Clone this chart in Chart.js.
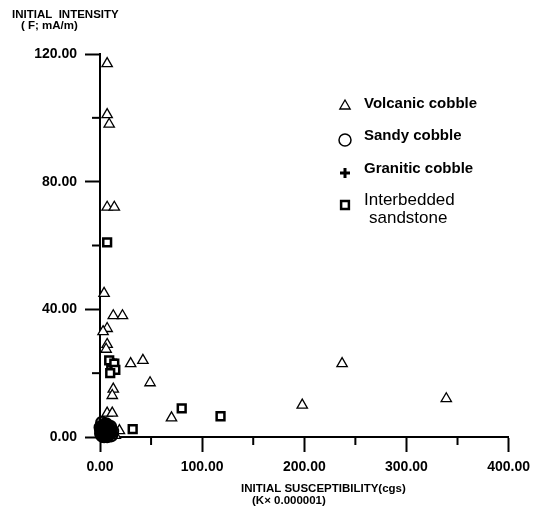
<!DOCTYPE html>
<html>
<head>
<meta charset="utf-8">
<script src="https://cdn.jsdelivr.net/npm/chart.js@4/dist/chart.umd.min.js"></script>
<style>
  body { margin: 0; background: #fff; }
  canvas { display: block; }
</style>
</head>
<body>
<canvas id="chart" width="537" height="509"></canvas>
<script>
// Values
const volcanicX = [7, 7, 9, 7, 14, 4, 13, 22, 7, 3, 7, 6, 13, 30, 42, 49, 13, 12, 7, 12, 70, 198, 237, 339, 19, 3, 6, 10, 15];
const volcanicY = [117, 101, 98, 72, 72, 45, 38, 38, 34, 33, 29, 27.5, 23, 23, 24, 17, 15, 13, 7.5, 7.5, 6, 10, 23, 12, 2, 4, 2, 1, 0.5];

const sandyX = [1, 2, 3, 4, 5, 6, 2, 8, 3, 7, 10, 1, 4, 5, 9, 11, 6, 2, 8, 12, 3, 0.5, 7, 10];
const sandyY = [1, 0.5, 2, 1.5, 0.8, 2.5, 3, 1, 0.3, 3.5, 1.2, 2, 0.2, 3, 2.5, 0.5, 4, 4.5, 3, 1.8, 1.2, 3, 0.2, 3.2];

const graniticX = [1, 2, 4, 5, 6, 3, 8, 1, 9, 4, 7, 11, 2, 6];
const graniticY = [0.5, 1.5, 0.2, 2, 1, 3, 0.5, 2.5, 1.5, 4, 2.2, 1, 3.8, 3.5];

const sandstoneX = [7, 12, 11, 9, 14, 15, 10, 32, 80, 118, 2, 5, 9];
const sandstoneY = [61, 23, 21, 24, 23, 21, 20, 2.5, 9, 6.5, 2, 0.5, 2];

const xTicks = [0, 100, 200, 300, 400];
const yTicks = [0, 40, 80, 120];
const xMinor = [50, 150, 250, 350];
const yMinor = [20, 60, 100];

const FONT = "'Liberation Sans', Arial, sans-serif";

function pts(xs, ys) {
    return xs.map((x, i) => ({ x: x, y: ys[i] }));
}

// minor ticks, axis titles and the in-plot legend
const extras = {
    id: "extras",
    afterDraw(chart) {
        const ctx = chart.ctx;
        const xs = chart.scales.x, ys = chart.scales.y;
        const area = chart.chartArea;
        ctx.save();
        ctx.strokeStyle = "#000";
        ctx.lineWidth = 2;
        xMinor.forEach(v => {
            const px = xs.getPixelForValue(v);
            ctx.beginPath();
            ctx.moveTo(px, area.bottom);
            ctx.lineTo(px, area.bottom + 8);
            ctx.stroke();
        });
        yMinor.forEach(v => {
            const py = ys.getPixelForValue(v);
            ctx.beginPath();
            ctx.moveTo(area.left - 8, py);
            ctx.lineTo(area.left, py);
            ctx.stroke();
        });

        ctx.fillStyle = "#000";
        ctx.textBaseline = "middle";
        ctx.textAlign = "left";
        ctx.font = "bold 11.5px " + FONT;
        ctx.fillText("INITIAL  INTENSITY", 12, 15);
        ctx.fillText("( F; mA/m)", 21, 26);
        ctx.fillText("INITIAL SUSCEPTIBILITY(cgs)", 241, 489);
        ctx.fillText("(K\u00d7 0.000001)", 252, 501);

        // legend
        const helpers = Chart.helpers;
        const items = [
            { style: "triangle", r: 6, w: 1.3, my: 106, y: 104, text: ["Volcanic cobble"], bold: true },
            { style: "circle", r: 6, w: 1.5, my: 140, y: 136, text: ["Sandy cobble"], bold: true },
            { style: "cross", r: 5, w: 3, my: 173, y: 169, text: ["Granitic cobble"], bold: true },
            { style: "rect", r: 5.5, w: 2.5, my: 205, y: 200, text: ["Interbedded", "sandstone"], bold: false }
        ];
        items.forEach(it => {
            ctx.strokeStyle = "#000";
            ctx.fillStyle = "#fff";
            ctx.lineWidth = it.w;
            helpers.drawPoint(ctx, { pointStyle: it.style, radius: it.r, borderWidth: it.w, rotation: 0 }, 345, it.my);
            ctx.fillStyle = "#000";
            if (it.bold) {
                ctx.font = "bold 15px " + FONT;
                ctx.fillText(it.text[0], 364, it.y);
            } else {
                ctx.font = "17px " + FONT;
                ctx.fillText(it.text[0], 364, it.y);
                ctx.fillText(it.text[1], 369, it.y + 18);
            }
        });
        ctx.restore();
    }
};

new Chart(document.getElementById("chart"), {
    type: "scatter",
    data: {
        datasets: [
            {
                label: "Sandy cobble",
                data: pts(sandyX, sandyY),
                pointStyle: "circle",
                pointRadius: 6,
                borderWidth: 2,
                borderColor: "#000",
                backgroundColor: "rgba(0,0,0,0.6)",
                clip: false
            },
            {
                label: "Granitic cobble",
                data: pts(graniticX, graniticY),
                pointStyle: "cross",
                pointRadius: 5,
                borderWidth: 3,
                borderColor: "#000",
                backgroundColor: "#000",
                clip: false
            },
            {
                label: "Interbedded sandstone",
                data: pts(sandstoneX, sandstoneY),
                pointStyle: "rect",
                pointRadius: 5.5,
                borderWidth: 2.5,
                borderColor: "#000",
                backgroundColor: "#fff",
                clip: false
            },
            {
                label: "Volcanic cobble",
                data: pts(volcanicX, volcanicY),
                pointStyle: "triangle",
                pointRadius: 6,
                borderWidth: 1.3,
                borderColor: "#000",
                backgroundColor: "#fff",
                clip: false
            }
        ]
    },
    options: {
        responsive: false,
        animation: false,
        layout: { padding: { top: 54, right: 28, left: 0, bottom: 0 } },
        plugins: {
            legend: { display: false },
            tooltip: { enabled: false }
        },
        scales: {
            x: {
                type: "linear",
                min: xTicks[0],
                max: xTicks[xTicks.length - 1],
                afterBuildTicks: s => { s.ticks = xTicks.map(v => ({ value: v })); },
                afterFit: s => { s.height = 72; },
                ticks: {
                    color: "#000",
                    font: { family: FONT, size: 14, weight: "bold" },
                    padding: 7,
                    maxRotation: 0,
                    callback: v => Number(v).toFixed(2)
                },
                grid: { drawOnChartArea: false, drawTicks: true, tickLength: 15, tickWidth: 2, tickColor: "#000" },
                border: { display: true, color: "#000", width: 2 }
            },
            y: {
                type: "linear",
                min: yTicks[0],
                max: yTicks[yTicks.length - 1],
                afterBuildTicks: s => { s.ticks = yTicks.map(v => ({ value: v })); },
                afterFit: s => { s.width = 100; },
                ticks: {
                    color: "#000",
                    font: { family: FONT, size: 14, weight: "bold" },
                    padding: 8,
                    callback: v => Number(v).toFixed(2)
                },
                grid: { drawOnChartArea: false, drawTicks: true, tickLength: 15, tickWidth: 2, tickColor: "#000" },
                border: { display: true, color: "#000", width: 2 }
            }
        }
    },
    plugins: [extras]
});
</script>
</body>
</html>
